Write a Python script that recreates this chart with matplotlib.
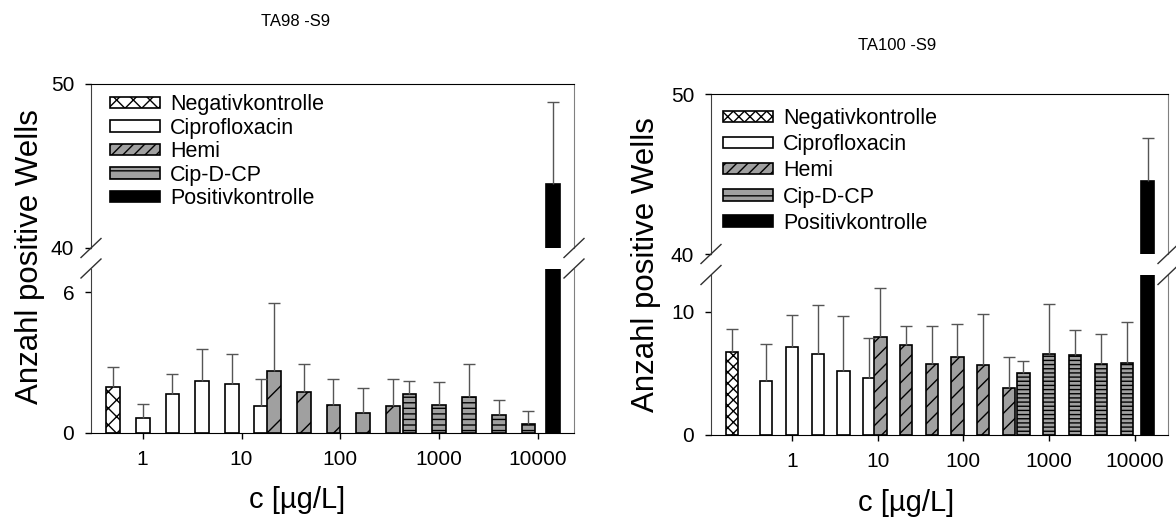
import numpy as np
import matplotlib
matplotlib.use('Agg')
import matplotlib.pyplot as plt
from matplotlib.patches import Patch
from matplotlib.lines import Line2D
from matplotlib.ticker import NullLocator

plt.rcParams['font.family'] = ['Liberation Sans', 'DejaVu Sans']
plt.rcParams['hatch.linewidth'] = 1.0

# ---------- TA98 -S9 ----------
ta98_neg_x = [0.5]
ta98_neg = [1.94]
ta98_neg_err = [0.85]
ta98_cip_x = [1, 2, 4, 8, 15.7]
ta98_cip = [0.65, 1.65, 2.20, 2.09, 1.15]
ta98_cip_err = [0.57, 0.86, 1.39, 1.27, 1.16]
ta98_hemi_x = [21.4, 42.7, 85, 170, 340]
ta98_hemi = [2.65, 1.76, 1.21, 0.87, 1.16]
ta98_hemi_err = [2.88, 1.19, 1.09, 1.06, 1.15]
ta98_cdc_x = [500, 1000, 2000, 4000, 8000]
ta98_cdc = [1.66, 1.21, 1.55, 0.78, 0.40]
ta98_cdc_err = [0.57, 0.96, 1.40, 0.64, 0.54]
ta98_pos_x = [14260]
ta98_pos = [43.9]
ta98_pos_err = [5.0]

# ---------- TA100 -S9 ----------
ta100_neg_x = [0.2]
ta100_neg = [6.78]
ta100_neg_err = [1.81]
ta100_cip_x = [0.5, 1, 2, 4, 8]
ta100_cip = [4.35, 7.11, 6.57, 5.22, 4.65]
ta100_cip_err = [3.06, 2.62, 3.97, 4.48, 3.24]
ta100_hemi_x = [10.8, 21.5, 43, 85.5, 171, 340]
ta100_hemi = [8.0, 7.35, 5.78, 6.35, 5.65, 3.84]
ta100_hemi_err = [3.93, 1.54, 3.11, 2.68, 4.16, 2.46]
ta100_cdc_x = [505, 1010, 2020, 4050, 8100]
ta100_cdc = [5.0, 6.57, 6.46, 5.78, 5.84]
ta100_cdc_err = [1.0, 4.08, 2.05, 2.41, 3.38]
ta100_pos_x = [14200]
ta100_pos = [44.57]
ta100_pos_err = [2.69]

labels = ['Negativkontrolle', 'Ciprofloxacin', 'Hemi', 'Cip-D-CP', 'Positivkontrolle']
xticks = [1, 10, 100, 1000, 10000]
xticklabels = ['1', '10', '100', '1000', '10000']

W, H = 1176, 522
fig = plt.figure(figsize=(W / 100, H / 100), dpi=100)


def px(x, y):
    return x / W, 1 - y / H


def bars(ax, xs, ys, dec, fc, hatch, **kw):
    xs = np.asarray(xs, float)
    left = xs * 10 ** (-dec / 2)
    right = xs * 10 ** (dec / 2)
    ax.bar(left, ys, width=right - left, align='edge', facecolor=fc,
           edgecolor='black', hatch=hatch, linewidth=1.2, zorder=2, **kw)


def errs(ax, xs, ys, es):
    xs = np.asarray(xs, float)
    tops = np.asarray(ys) + np.asarray(es)
    ax.vlines(xs, ys, tops, color='#555555', lw=1.0, zorder=3)
    ax.plot(xs, tops, ls='none', marker='_', ms=8, mew=1.0, color='#555555', zorder=3)


def panel(x0, x1, yu, yl, xlim, ylow, yticks_low, dec, hat, d):
    (nx, n, ne), (cx, c, ce), (hx, h, he), (dx, dd, de), (px_, p, pe) = d
    wfr = (x1 - x0) / W
    up = fig.add_axes([x0 / W, 1 - yu[1] / H, wfr, (yu[1] - yu[0]) / H])
    lo = fig.add_axes([x0 / W, 1 - yl[1] / H, wfr, (yl[1] - yl[0]) / H])
    for ax in (up, lo):
        ax.set_xscale('log')
        ax.set_xlim(*xlim)
        ax.xaxis.set_minor_locator(NullLocator())
        ax.tick_params(direction='out', length=4, width=1, labelsize=15, pad=8)
        ax.spines['left'].set_color('#404040')
        ax.spines['right'].set_color('#808080')
        bars(ax, nx, n, dec, 'white', hat[0])
        bars(ax, cx, c, dec, 'white', '')
        bars(ax, hx, h, dec, '#a0a0a0', hat[1])
        bars(ax, dx, dd, dec, '#a0a0a0', hat[2])
        bars(ax, px_, p, dec * 1.05, 'black', '')
    errs(lo, nx, n, ne)
    errs(lo, cx, c, ce)
    errs(lo, hx, h, he)
    errs(lo, dx, dd, de)
    errs(up, px_, p, pe)

    up.set_ylim(40, 50)
    up.set_yticks([40, 50])
    up.set_xticks([])
    up.spines['bottom'].set_visible(False)
    up.tick_params(axis='x', which='both', bottom=False, labelbottom=False)

    lo.set_ylim(*ylow)
    lo.set_yticks(yticks_low)
    lo.set_xticks(xticks)
    lo.set_xticklabels(xticklabels)
    lo.spines['top'].set_visible(False)

    # axis break marks
    for xb in (x0, x1):
        for yb in (yu[1], yl[0]):
            fig.add_artist(Line2D([(xb - 10) / W, (xb + 10) / W],
                                  [1 - (yb + 9.5) / H, 1 - (yb - 9.5) / H],
                                  color='#303030', lw=1.0))

    handles = [Patch(facecolor='white', edgecolor='black', hatch=hat[0], lw=1.2),
               Patch(facecolor='white', edgecolor='black', lw=1.2),
               Patch(facecolor='#a0a0a0', edgecolor='black', hatch='///', lw=1.2),
               Patch(facecolor='#a0a0a0', edgecolor='black', hatch='--', lw=1.2),
               Patch(facecolor='black', edgecolor='black', lw=1.2)]
    return up, lo, handles


up1, lo1, h1 = panel(91, 574, (84, 248), (268.5, 433), (0.3, 23100), (0, 7), [0, 6], 0.138,
                     ('xx', '/', '---'),
                     [(ta98_neg_x, ta98_neg, ta98_neg_err),
                      (ta98_cip_x, ta98_cip, ta98_cip_err),
                      (ta98_hemi_x, ta98_hemi, ta98_hemi_err),
                      (ta98_cdc_x, ta98_cdc, ta98_cdc_err),
                      (ta98_pos_x, ta98_pos, ta98_pos_err)])
up2, lo2, h2 = panel(711, 1168, (94, 254), (275, 435), (0.1135, 24600), (0, 13), [0, 10], 0.144,
                     ('xxx', '//', '----'),
                     [(ta100_neg_x, ta100_neg, ta100_neg_err),
                      (ta100_cip_x, ta100_cip, ta100_cip_err),
                      (ta100_hemi_x, ta100_hemi, ta100_hemi_err),
                      (ta100_cdc_x, ta100_cdc, ta100_cdc_err),
                      (ta100_pos_x, ta100_pos, ta100_pos_err)])

for hs, anchor, sp in ((h1, px(110, 94), 0.12), (h2, px(723, 108), 0.24)):
    fig.legend(hs, labels, loc='upper left', bbox_to_anchor=anchor, frameon=False,
               fontsize=15.5, borderpad=0, borderaxespad=0, handlelength=2.3,
               handleheight=0.45, handletextpad=0.5, labelspacing=sp)

fig.text(*px(296, 22), 'TA98 -S9', ha='center', va='center', fontsize=12)
fig.text(*px(897, 45), 'TA100 -S9', ha='center', va='center', fontsize=12)
fig.text(*px(30, 257), 'Anzahl positive Wells', rotation=90, ha='center', va='center', fontsize=22.5)
fig.text(*px(646, 265), 'Anzahl positive Wells', rotation=90, ha='center', va='center', fontsize=22.5)
fig.text(*px(297, 500), 'c [µg/L]', ha='center', va='center', fontsize=21)
fig.text(*px(906, 503), 'c [µg/L]', ha='center', va='center', fontsize=21)

fig.savefig('out.png', dpi=100)
